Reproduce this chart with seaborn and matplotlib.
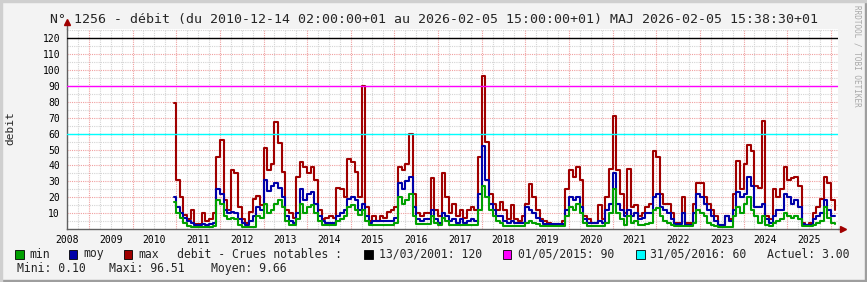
import numpy as np
import pandas as pd
import matplotlib
matplotlib.use("Agg")
import matplotlib.pyplot as plt
from matplotlib.patches import Rectangle
import seaborn as sns

# ---------------- data (monthly) ----------------
start_date = "2010-12-14"
end_date = "2026-02-05 15:00"
debit_max = ([79] +
    [31, 20, 9, 6, 12, 3, 3, 10, 5, 6, 10, 45] +
    [56, 18, 12, 37, 35, 14, 6, 4, 11, 19, 21, 15] +
    [51, 37, 41, 67, 54, 36, 12, 10, 7, 33, 42, 39] +
    [35, 39, 31, 12, 6, 7, 8, 7, 26, 25, 20, 44] +
    [42, 36, 20, 90, 14, 5, 8, 5, 8, 7, 11, 12] +
    [14, 39, 37, 41, 60, 22, 10, 8, 10, 10, 32, 12] +
    [8, 35, 20, 10, 16, 8, 12, 7, 12, 14, 12, 45] +
    [96.5, 55, 22, 16, 12, 17, 12, 6, 15, 6, 5, 8] +
    [16, 28, 20, 12, 6, 5, 3.5, 3, 3, 2.5, 5, 25] +
    [37, 33, 39, 31, 8, 6, 3.5, 3.5, 15, 6, 20, 38] +
    [71, 37, 22, 10, 38, 14, 15, 8, 10, 14, 16, 49] +
    [45, 22, 16, 16, 10, 4, 3.5, 20, 3.5, 3.5, 16, 29] +
    [29, 20, 16, 12, 8, 2.5, 2.5, 8, 6, 22, 43, 25] +
    [41, 53, 49, 27, 26, 68, 8, 6, 25, 20, 25, 39] +
    [31, 32, 33, 27, 3.5, 2.5, 3.5, 10, 14, 19, 33, 29] +
    [18, 12])
debit_moy = ([20] +
    [14, 10, 7, 5, 3.5, 2.5, 2.5, 3, 2.5, 3, 4, 25] +
    [22, 12, 10, 11, 10, 6, 4, 2.5, 5, 8, 14, 12] +
    [31, 24, 27, 29, 26, 20, 8, 5, 3.5, 10, 25, 18] +
    [22, 23, 16, 8, 5, 3.5, 3.5, 3.5, 8, 10, 12, 19] +
    [20, 18, 12, 16, 8, 3.5, 5, 5, 5, 5, 5, 5] +
    [7, 29, 25, 30, 33, 14, 6, 5, 6, 6, 12, 6] +
    [3.5, 10, 8, 5, 6, 3.5, 6, 3.5, 5, 6, 5, 22] +
    [52, 31, 16, 12, 8, 8, 5, 3.5, 5, 3.5, 3.5, 3.5] +
    [14, 12, 10, 7, 5, 3, 3, 3, 3, 3, 3, 12] +
    [20, 18, 20, 14, 6, 3.5, 3.5, 3.5, 5, 3.5, 12, 16] +
    [35, 16, 12, 8, 12, 8, 10, 6, 7, 10, 10, 20] +
    [22, 14, 12, 10, 6, 3, 3, 10, 2.5, 2.5, 10, 22] +
    [20, 16, 12, 8, 5, 2.5, 2.5, 8, 5, 12, 23, 20] +
    [22, 33, 27, 14, 14, 16, 6, 3.5, 8, 12, 12, 22] +
    [20, 16, 18, 14, 3, 2.5, 2.5, 6, 8, 10, 18, 12] +
    [8, 8])
debit_min = ([17] +
    [10, 7, 3.5, 2, 1.5, 1.5, 1, 1.5, 1.5, 1.5, 2, 18] +
    [16, 8, 6, 7, 6, 2.5, 1.5, 1.5, 1.5, 1.5, 8, 7] +
    [16, 10, 12, 16, 18, 14, 5, 2.5, 2.5, 6, 16, 10] +
    [14, 15, 10, 5, 2.5, 2.5, 2.5, 2.5, 5, 6, 8, 14] +
    [15, 12, 9, 12, 5, 2.5, 2.5, 2.5, 2.5, 2.5, 2.5, 2.5] +
    [3.5, 20, 16, 18, 22, 8, 3, 3, 3, 3, 8, 3.5] +
    [2.5, 7, 5, 2.5, 2.5, 2.5, 2.5, 2.5, 2.5, 2.5, 2.5, 12] +
    [27, 20, 12, 8, 5, 3.5, 2, 2, 2, 2, 2, 2] +
    [4, 5, 4, 3, 2, 2, 2, 2, 2, 2, 2, 8] +
    [14, 12, 16, 10, 3.5, 2, 2, 2, 2, 2, 3.5, 10] +
    [25, 10, 6, 2.5, 8, 3.5, 5, 2.5, 2.5, 3, 3.5, 12] +
    [13, 8, 5, 3.5, 2.5, 2, 2, 2, 2, 2, 3.5, 12] +
    [10, 8, 3.5, 2.5, 2, 1.5, 1.5, 1.5, 1.5, 8, 14, 10] +
    [16, 20, 12, 8, 3.5, 8, 2.5, 2, 3.5, 5, 6, 10] +
    [8, 7, 8, 6, 2, 2, 2, 2.5, 3.5, 5, 14, 7] +
    [3.5, 3])

crue_labels = ["13/03/2001: 120", "01/05/2015: 90", "31/05/2016: 60"]
crue_values = [120, 90, 60]
crue_colors = ["#000000", "#FF00FF", "#00FFFF"]
serie_names = ["min", "moy", "max"]
serie_colors = {"min": "#00A000", "moy": "#0000A8", "max": "#A00000"}
actuel = "3.00"
mini, maxi, moyen = "0.10", "96.51", "9.66"
title = "N° 1256 - débit (du 2010-12-14 02:00:00+01 au 2026-02-05 15:00:00+01) MAJ 2026-02-05 15:38:30+01"

dates = [pd.Timestamp(start_date)] + list(pd.date_range("2011-01-01", "2026-02-01", freq="MS"))
dates_ext = dates + [pd.Timestamp(end_date)]
frames = []
for name, vals in [("max", debit_max), ("moy", debit_moy), ("min", debit_min)]:
    v = list(vals) + [vals[-1]]
    frames.append(pd.DataFrame({"date": dates_ext, "value": v, "serie": name}))
df = pd.concat(frames, ignore_index=True)

# ---------------- figure ----------------
sns.set_style("white")
plt.rcParams["font.family"] = ["DejaVu Sans Mono", "DejaVu Sans"]
W, H = 867, 282
fig = plt.figure(figsize=(W / 100, H / 100), dpi=100, facecolor="#F3F3F3")
x0, x1, ytop, ybot = 67, 838, 28.7, 229
ax = fig.add_axes([x0 / W, (H - ybot) / H, (x1 - x0) / W, (ybot - ytop) / H])
ax.set_facecolor("white")

xmin, xmax = pd.Timestamp("2008-07-12"), pd.Timestamp("2026-03-01")
ax.set_xlim(xmin, xmax)
ax.set_ylim(0, 126)

# grid
for d in pd.date_range("2008-07-01", "2026-03-01", freq="QS"):
    if d.month == 1:
        ax.axvline(d, color="#F0A0A0", lw=0.8, ls=(0, (1, 1)), zorder=0.5)
    else:
        ax.axvline(d, color="#D4D4D4", lw=0.8, ls=(0, (1, 1)), zorder=0.4)
for yv in np.arange(5, 126, 5):
    if yv % 10 == 0:
        ax.axhline(yv, color="#F0A0A0", lw=0.8, ls=(0, (1, 1)), zorder=0.5)
    else:
        ax.axhline(yv, color="#D4D4D4", lw=0.8, ls=(0, (1, 1)), zorder=0.4)

# data lines
sns.lineplot(data=df, x="date", y="value", hue="serie", hue_order=["max", "moy", "min"],
             palette=serie_colors, drawstyle="steps-post", linewidth=1.5,
             estimator=None, legend=False, ax=ax, zorder=3)

for v, c in zip(crue_values, crue_colors):
    ax.axhline(v, color=c, lw=1.0, zorder=4)

# axes styling
for s in ["top", "right"]:
    ax.spines[s].set_visible(False)
for s in ["left", "bottom"]:
    ax.spines[s].set_color("#606060")
    ax.spines[s].set_linewidth(1.0)
ax.set_xlabel("")
ax.set_ylabel("")
years = list(range(2008, 2026))
ax.set_xticks([pd.Timestamp(f"{y}-07-01") for y in years])
ax.set_xticklabels([str(y) for y in years])
ax.set_yticks(np.arange(10, 121, 10))
ax.set_yticklabels([str(v) for v in np.arange(10, 121, 10)])
ax.tick_params(axis="both", length=0, labelsize=7, colors="black")
ax.tick_params(axis="x", pad=4)
ax.tick_params(axis="y", pad=5)

# axis arrows
ax.plot([0, 0], [1, 1.03], transform=ax.transAxes, color="#606060", lw=1, clip_on=False)
ax.plot([0], [1.035], transform=ax.transAxes, marker="^", color="#A00000", ms=5, clip_on=False)
ax.plot([1, 1.004], [0, 0], transform=ax.transAxes, color="#606060", lw=1, clip_on=False)
ax.plot([1.006], [0], transform=ax.transAxes, marker=">", color="#A00000", ms=5, clip_on=False)

# texts
fig.text(0.5, 1 - 20 / H, title, ha="center", va="center", fontsize=9.5)
fig.text(10 / W, 1 - 128 / H, "debit", rotation=90, ha="center", va="center", fontsize=8)
fig.text(857 / W, 1 - 5 / H, "RRDTOOL / TOBI OETIKER", rotation=270, ha="center", va="top",
         fontsize=5.5, color="#A8A8A8")

fs = 8.3
r1 = 1 - 254 / H
r2 = 1 - 268.5 / H

def square(xpx, color):
    fig.patches.append(Rectangle((xpx / W, r1 - 4.5 / H), 8.5 / W, 9 / H, transform=fig.transFigure,
                                 facecolor=color, edgecolor="black", lw=0.6))

for xs, xt, name in zip([15, 68.6, 123.8], [29, 83.7, 138], serie_names):
    square(xs, serie_colors[name])
    fig.text(xt / W, r1, name, ha="left", va="center", fontsize=fs)
fig.text(177 / W, r1, "debit - Crues notables :", ha="left", va="center", fontsize=fs)
for xs, xt, lab, c in zip([364, 503, 636], [379, 517.6, 650], crue_labels, crue_colors):
    square(xs, c)
    fig.text(xt / W, r1, lab, ha="left", va="center", fontsize=fs)
fig.text(767 / W, r1, f"Actuel: {actuel}", ha="left", va="center", fontsize=fs)
fig.text(16.7 / W, r2, f"Mini: {mini}", ha="left", va="center", fontsize=fs)
fig.text(109 / W, r2, f"Maxi: {maxi}", ha="left", va="center", fontsize=fs)
fig.text(211 / W, r2, f"Moyen: {moyen}", ha="left", va="center", fontsize=fs)

# frame shading
fig.patches.append(Rectangle((0, 0), 1, 2 / H, transform=fig.transFigure, color="#9E9E9E"))
fig.patches.append(Rectangle((1 - 2 / W, 0), 2 / W, 1, transform=fig.transFigure, color="#9E9E9E"))
fig.patches.append(Rectangle((0, 1 - 2 / H), 1, 2 / H, transform=fig.transFigure, color="#CFCFCF"))
fig.patches.append(Rectangle((0, 0), 2 / W, 1, transform=fig.transFigure, color="#CFCFCF"))

fig.savefig("out.png", dpi=100, facecolor=fig.get_facecolor())
